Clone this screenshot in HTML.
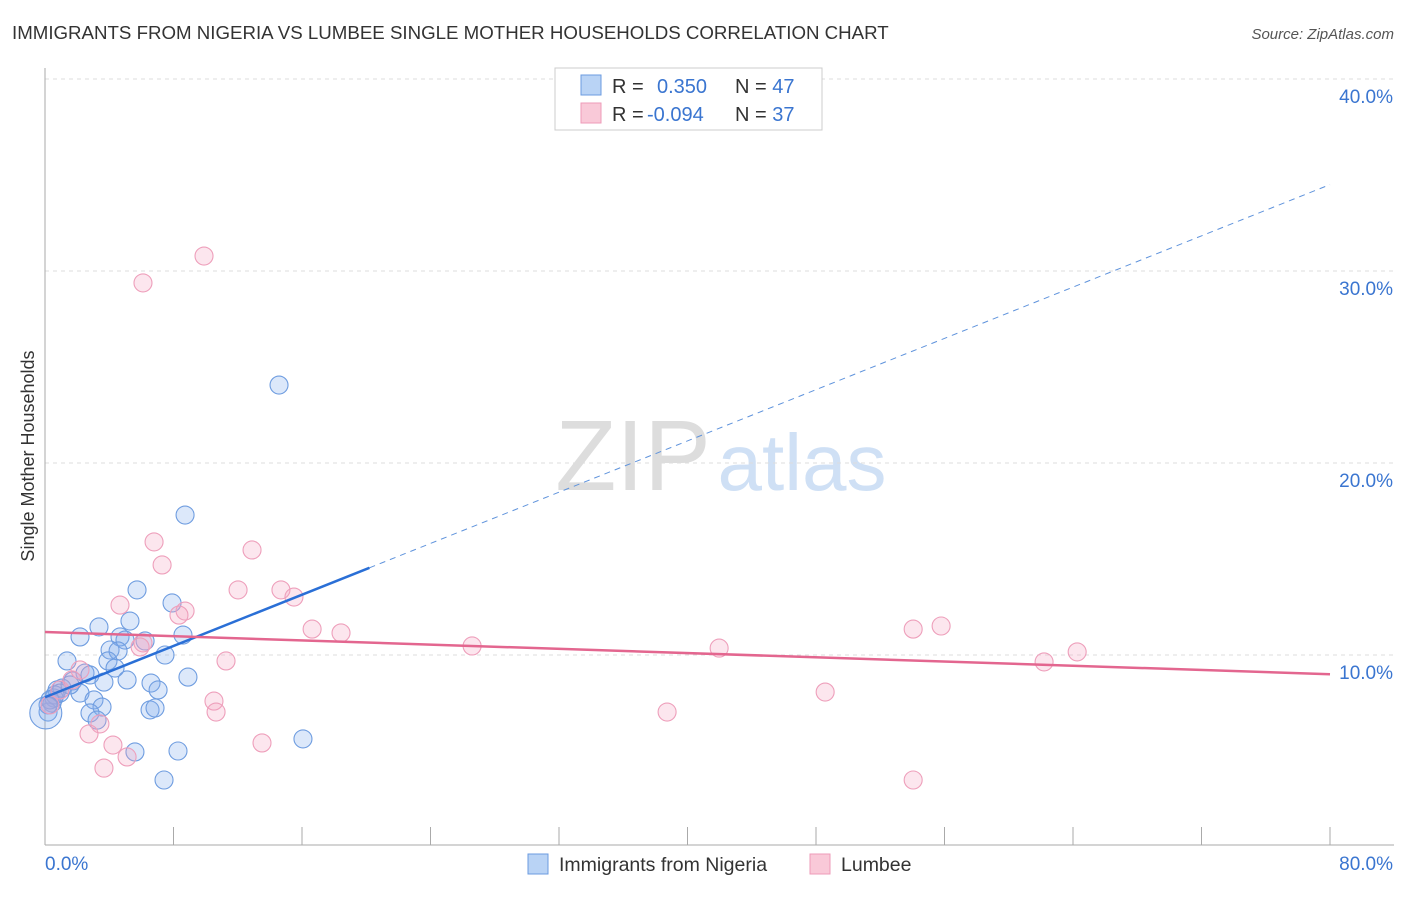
<!DOCTYPE html>
<html><head><meta charset="utf-8"><style>
body{margin:0;background:#fff;font-family:"Liberation Sans",sans-serif;}
svg text{font-family:"Liberation Sans",sans-serif;}
</style></head><body>
<svg id="c" width="1406" height="892" xmlns="http://www.w3.org/2000/svg">
<text x="12" y="39" font-size="18.7" fill="#333">IMMIGRANTS FROM NIGERIA VS LUMBEE SINGLE MOTHER HOUSEHOLDS CORRELATION CHART</text>
<text x="1394" y="39" font-size="15" fill="#555" text-anchor="end" font-style="italic">Source: ZipAtlas.com</text>
<text x="633" y="490" font-size="100" fill="#ddd" font-family="Liberation Serif" text-anchor="middle">ZIP</text>
<text x="802" y="490" font-size="80" fill="#cfe0f5" text-anchor="middle">atlas</text>
<g id="grid"></g><g id="axes"></g><g id="pts"></g><g id="trend"></g>
<text transform="translate(34,456) rotate(-90)" font-size="18" fill="#333" text-anchor="middle">Single Mother Households</text>
<g>
<rect x="555" y="68" width="267" height="62" fill="#fff" stroke="#ccc"/>
<rect x="581" y="75" width="20" height="20" fill="#b9d3f5" stroke="#6b9be0"/>
<rect x="581" y="103" width="20" height="20" fill="#f9c9d8" stroke="#ee9bb8"/>
<text x="612" y="93" font-size="20" fill="#333">R = </text><text x="657" y="93" font-size="20" fill="#3a75d0">0.350</text>
<text x="735" y="93" font-size="20" fill="#333">N = <tspan fill="#3a75d0">47</tspan></text>
<text x="612" y="121" font-size="20" fill="#333">R = </text><text x="647" y="121" font-size="20" fill="#3a75d0">-0.094</text>
<text x="735" y="121" font-size="20" fill="#333">N = <tspan fill="#3a75d0">37</tspan></text>
</g>
<g>
<rect x="528" y="854" width="20" height="20" fill="#b9d3f5" stroke="#6b9be0"/>
<text x="559" y="871" font-size="19.5" fill="#333">Immigrants from Nigeria</text>
<rect x="810" y="854" width="20" height="20" fill="#f9c9d8" stroke="#ee9bb8"/>
<text x="841" y="871" font-size="19.5" fill="#333">Lumbee</text>
</g>
</svg>
<script>
const blueX=[14.57,8.72,5.73,7.91,3.36,5.29,2.18,4.67,4.98,8.59,6.23,4.05,4.55,7.47,1.37,3.92,2.49,2.80,4.36,8.90,1.74,3.67,5.11,6.60,7.04,2.18,1.06,0.75,3.05,3.55,0.56,0.44,6.54,6.85,2.80,3.24,5.60,8.28,16.06,7.41,0.19,0.62,0.93,1.56,0.31,0.19,0.05];
const blueY=[24.06,17.29,13.39,12.71,11.46,11.77,10.94,10.94,10.78,11.04,10.73,10.26,10.21,10.0,9.69,9.69,9.06,8.96,9.32,8.85,8.65,8.59,8.70,8.54,8.18,8.02,8.28,8.18,7.66,7.29,7.76,7.50,7.14,7.24,6.98,6.61,4.95,5.00,5.63,3.49,7.03,7.92,8.02,8.44,7.66,7.40,6.98];
const pinkX=[9.90,6.10,6.79,12.89,7.29,12.02,14.69,15.50,4.67,8.72,8.34,16.63,18.43,6.10,5.92,26.59,41.97,64.26,62.20,11.27,54.05,55.79,48.57,10.52,10.65,38.73,3.42,2.74,4.23,13.51,5.11,3.67,54.05,1.68,0.93,2.18,0.31];
const pinkY=[30.78,29.38,15.89,15.47,14.69,13.39,13.39,13.02,12.60,12.29,12.08,11.35,11.15,10.63,10.42,10.47,10.36,10.16,9.64,9.69,11.35,11.51,8.07,7.60,7.03,7.03,6.41,5.89,5.31,5.42,4.69,4.11,3.49,8.70,8.18,9.22,7.40];
const yTicks=[10,20,30,40];
const yTickLabels=["10.0%","20.0%","30.0%","40.0%"];
const xTicks=[8,16,24,32,40,48,56,64,72,80];
const blueTrend=[7.8,34.5];
const pinkTrend=[11.2,9.0];
const X=v=>45+v*16.0625, Y=v=>847-v*19.2;
const NS="http://www.w3.org/2000/svg";
function mk(p,t,a){const e=document.createElementNS(NS,t);for(const k in a)e.setAttribute(k,a[k]);p.appendChild(e);return e;}
const g=document.getElementById('grid'),ax=document.getElementById('axes'),pt=document.getElementById('pts'),tr=document.getElementById('trend');
yTicks.forEach((t,i)=>{
 const l=mk(g,'line',{x1:45,x2:1394,y1:Y(t),y2:Y(t),stroke:'#ddd','stroke-dasharray':'4,4'});
 
 
 const tx=mk(g,'text',{x:1393,y:Y(t)+24,'font-size':19,fill:'#3a75d0','text-anchor':'end'});
 tx.textContent=yTickLabels[i];
 
 
});
const la=mk(ax,'line',{x1:45,x2:45,y1:68,y2:845,stroke:'#aaa'});


const ba=mk(ax,'line',{x1:45,x2:1394,y1:845,y2:845,stroke:'#aaa'});


xTicks.forEach(t=>{
 const l=mk(ax,'line',{x1:X(t),x2:X(t),y1:827,y2:845,stroke:'#aaa'});
 
 
});
const x0=mk(ax,'text',{x:45,y:870,'font-size':19,fill:'#3a75d0'});x0.textContent='0.0%';


const x1=mk(ax,'text',{x:1393,y:870,'font-size':19,fill:'#3a75d0','text-anchor':'end'});x1.textContent='80.0%';


blueX.forEach((v,i)=>{
 const c=mk(pt,'circle',{cx:X(v),cy:Y(blueY[i]),r:i==blueX.length-1?16:9,fill:'rgba(130,172,238,0.28)',stroke:'#6f9de0','stroke-width':1.1});
 
 
});
pinkX.forEach((v,i)=>{
 const c=mk(pt,'circle',{cx:X(v),cy:Y(pinkY[i]),r:9,fill:'rgba(245,165,195,0.28)',stroke:'#ee9fbb','stroke-width':1.1});
 
 
});
const bAt=x=>blueTrend[0]+(blueTrend[1]-blueTrend[0])*x/80;
const b1=mk(tr,'line',{x1:X(0),y1:Y(bAt(0)),x2:X(20.2),y2:Y(bAt(20.2)),stroke:'#2a6fd6','stroke-width':2.5});


const b2=mk(tr,'line',{x1:X(20.2),y1:Y(bAt(20.2)),x2:X(80),y2:Y(bAt(80)),stroke:'#5f93dc','stroke-width':1,'stroke-dasharray':'6,5'});


const p1=mk(tr,'line',{x1:X(0),y1:Y(pinkTrend[0]),x2:X(80),y2:Y(pinkTrend[1]),stroke:'#e3668f','stroke-width':2.5});


</script>
</body></html>
